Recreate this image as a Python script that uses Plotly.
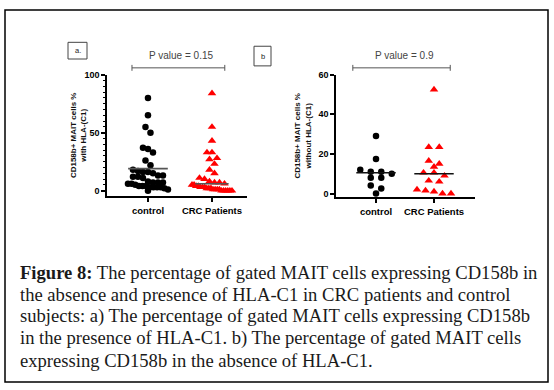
import plotly.graph_objects as go

# ---------------- data ----------------
categories = ["control", "CRC Patients"]

# Panel a: CD158b+ MAIT cells % with HLA-(C1)
a_control = [80, 65, 55, 50, 37, 36, 33, 26, 22, 18, 17, 16, 16, 15, 13, 13, 12, 12, 11,
             8, 7, 7, 7, 6, 6, 5, 4, 4, 4, 3, 3, 3, 3, 2, 1, 0]
a_crc = [84, 55, 43, 33, 33, 28, 27, 23, 18, 15, 11, 10, 8, 7, 7, 6, 5, 5, 4, 4, 3, 3, 3,
         2, 2, 2, 1, 1, 1, 1, 0, 0, 0, 0, 0, 0]
a_center = [19, 6]

# Panel b: CD158b+ MAIT cells % without HLA-(C1)
b_control = [29, 17.5, 12, 11, 11, 10, 8, 8, 4, 2.5, 0]
b_crc = [52.5, 23.5, 23.5, 16.5, 15, 13.5, 10.5, 9, 10.5, 6, 6.5, 2, 1, 1.5, 0, 0]
b_center = [10.5, 10]

p_values = ["P value = 0.15", "P value = 0.9"]
a_yticks = [0, 50, 100]
b_yticks = [0, 20, 40, 60]

caption_lines = [
    "<b>Figure 8:</b> The percentage of gated MAIT cells expressing CD158b in",
    "the absence and presence of HLA-C1 in CRC patients and control",
    "subjects: a) The percentage of gated MAIT cells expressing CD158b",
    "in the presence of HLA-C1. b) The percentage of gated MAIT cells",
    "expressing CD158b in the absence of HLA-C1.",
]

# ---------------- layout geometry (pixels) ----------------
W, H = 554, 390
A_X = (107, 247); A_Y = (71, 194); A_XR = [-0.64, 1.547]; A_YR = [-4.2, 100]
B_X = (336, 475); B_Y = (71, 195); B_XR = [-0.69, 1.707]; B_YR = [-1.5, 60]


def px(x):
    return x / W


def py(y):
    return 1 - y / H


def swarm(values, xrng, yrng, xpx, ypx, row_px, gap_px, max_px):
    """Prism-like row swarm: group values into rows of height row_px, spread each row."""
    ppx = (xpx[1] - xpx[0]) / (xrng[1] - xrng[0])
    ppy = (ypx[1] - ypx[0]) / (yrng[1] - yrng[0])
    order = sorted(range(len(values)), key=lambda i: -values[i])
    rows = []
    for i in order:
        if rows and (values[rows[-1][0]] - values[i]) * ppy <= row_px:
            rows[-1].append(i)
        else:
            rows.append([i])
    offs = [0.0] * len(values)
    for r in rows:
        n = len(r)
        g = gap_px if n < 2 else min(gap_px, max_px / (n - 1))
        for j, i in enumerate(r):
            offs[i] = (j - (n - 1) / 2) * g / ppx
    return offs


fig = go.Figure()

panels = [
    ("x", "y", a_control, a_crc, a_center, A_X, A_Y, A_XR, A_YR, "#555555", 6.0, 5.0, 40, [0.31, 0.26]),
    ("x2", "y2", b_control, b_crc, b_center, B_X, B_Y, B_XR, B_YR, "#111111", 6.0, 10.5, 34, [0.34, 0.34]),
]
for xa, ya, ctrl, crc, cen, XP, YP, XR, YR, lc, rowpx, gap, mx, half in panels:
    for gi, (vals, sym, col, sz) in enumerate([(ctrl, "circle", "black", 6.5),
                                               (crc, "triangle-up", "#ff0000", 7.5)]):
        offs = swarm(vals, XR, YR, XP, YP, rowpx, gap, mx)
        fig.add_trace(go.Scatter(
            x=[gi + o for o in offs], y=vals, mode="markers", xaxis=xa, yaxis=ya,
            marker=dict(symbol=sym, color=col, size=sz, line=dict(width=0)),
            showlegend=False, cliponaxis=False))
        fig.add_trace(go.Scatter(
            x=[gi - half[gi], gi + half[gi]], y=[cen[gi], cen[gi]], mode="lines",
            xaxis=xa, yaxis=ya, line=dict(color=lc, width=1.6),
            showlegend=False, cliponaxis=False))

ax_common = dict(showline=True, linecolor="black", linewidth=1.5, showgrid=False,
                 zeroline=False, ticks="outside", tickcolor="black", tickwidth=1.5)

fig.update_layout(
    width=W, height=H, margin=dict(l=0, r=0, t=0, b=0),
    paper_bgcolor="white", plot_bgcolor="rgba(0,0,0,0)",
    font=dict(family="Liberation Sans, Arial, sans-serif", color="black"),
    xaxis=dict(domain=[px(A_X[0]), px(A_X[1])], range=A_XR, tickvals=[0, 1],
               ticktext=["<b>%s</b>" % c for c in categories], ticklen=5,
               tickfont=dict(size=9.5), anchor="y", **ax_common),
    yaxis=dict(domain=[py(A_Y[1]), py(A_Y[0])], range=A_YR, tickvals=a_yticks,
               ticklen=4, tickfont=dict(size=9, weight="bold"), anchor="x",
               minor=dict(dtick=5, ticklen=2.5, tickwidth=1, tickcolor="black", ticks="outside"),
               **ax_common),
    xaxis2=dict(domain=[px(B_X[0]), px(B_X[1])], range=B_XR, tickvals=[0, 1],
                ticktext=["<b>%s</b>" % c for c in categories], ticklen=5,
                tickfont=dict(size=9.5), anchor="y2", **ax_common),
    yaxis2=dict(domain=[py(B_Y[1]), py(B_Y[0])], range=B_YR, tickvals=b_yticks,
                ticklen=4, tickfont=dict(size=9, weight="bold"), anchor="x2",
                **ax_common),
)

shapes = []
annotations = []
# outer border
shapes.append(dict(type="rect", xref="paper", yref="paper", x0=px(5), x1=px(548),
                   y0=py(384), y1=py(5), line=dict(color="black", width=1.5)))
# panel label boxes
for (x0, x1, y0, y1, t) in [(68, 87, 38, 55, "a."), (254, 271, 42, 62, "b")]:
    shapes.append(dict(type="rect", xref="paper", yref="paper", x0=px(x0), x1=px(x1),
                       y0=py(y1), y1=py(y0), line=dict(color="#444444", width=1)))
    annotations.append(dict(x=px((x0 + x1) / 2), y=py((y0 + y1) / 2), xref="paper",
                            yref="paper", text=t, showarrow=False,
                            xanchor="center", yanchor="middle",
                            font=dict(size=7.5, color="#222222")))
# brackets and p values
for xr, bx0, bx1, cx, ptxt in [("x", -0.25, 1.2, 181, p_values[0]),
                               ("x2", -0.40, 1.28, 404, p_values[1])]:
    shapes.append(dict(type="line", xref=xr, yref="paper", x0=bx0, x1=bx1,
                       y0=py(64), y1=py(64), line=dict(color="#555555", width=1)))
    for bx in (bx0, bx1):
        shapes.append(dict(type="line", xref=xr, yref="paper", x0=bx, x1=bx,
                           y0=py(61), y1=py(67), line=dict(color="#555555", width=1)))
    annotations.append(dict(x=px(cx), y=py(51), xref="paper", yref="paper", text=ptxt,
                            showarrow=False, xanchor="center", yanchor="middle",
                            font=dict(size=10, color="#444444")))
# y-axis titles
for cx, t in [(78.5, "<b>CD158b+ MAIT cells %<br>with HLA-(C1)</b>"),
              (303, "<b>CD158b+ MAIT cells %<br>without HLA-(C1)</b>")]:
    annotations.append(dict(x=px(cx), y=py(133), xref="paper", yref="paper", text=t,
                            textangle=-90, showarrow=False,
                            xanchor="center", yanchor="middle",
                            font=dict(size=8, color="#111111")))
# caption
for i, line in enumerate(caption_lines):
    annotations.append(dict(x=px(18), y=py(272 + 22.5 * i), xref="paper", yref="paper",
                            text=line, showarrow=False, xanchor="left", yanchor="middle",
                            font=dict(family="Liberation Serif, serif", size=18.6,
                                      color="#1a1a1a")))

fig.update_layout(shapes=shapes, annotations=annotations)
fig.write_html("out.html", config={"displayModeBar": False},
               post_script="document.body.style.margin='0px';")
